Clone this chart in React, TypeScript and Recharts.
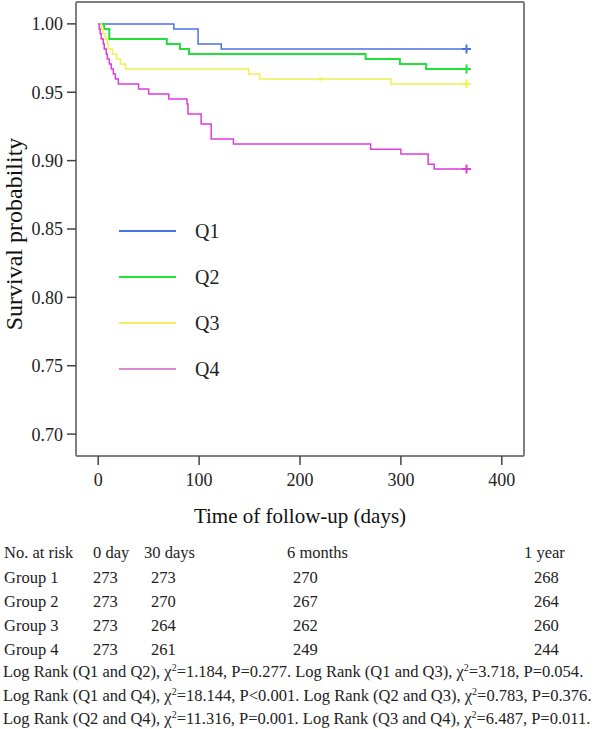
import React from 'react'
import { LineChart, Line, XAxis, YAxis, Legend, Label, ReferenceLine } from 'recharts'

// Kaplan-Meier steps (day, survival)
const q1Days = [0, 75, 99, 122, 365]
const q1Surv = [1, 0.9963, 0.9853, 0.9817, 0.9817]

const q2Days = [0, 6, 11, 68, 81, 90, 265, 299, 325, 365]
const q2Surv = [1, 0.9963, 0.989, 0.9853, 0.9817, 0.978, 0.9744, 0.9707, 0.967, 0.967]

const q3Days = [0, 3, 5, 7, 9, 10, 14, 18, 22, 27, 149, 160, 220, 290, 365]
const q3Surv = [1, 0.9963, 0.9927, 0.989, 0.9853, 0.9817, 0.978, 0.9744, 0.9707, 0.967, 0.9634, 0.9597, 0.9597, 0.956, 0.956]

const q4Days = [0, 1, 2, 3, 5, 6, 8, 9, 11, 13, 15, 17, 20, 40, 50, 70, 88, 89, 102, 112, 134, 270, 300, 327, 333, 365]
const q4Surv = [1, 0.9963, 0.9927, 0.989, 0.9853, 0.9817, 0.978, 0.9744, 0.9707, 0.967, 0.9634, 0.9597, 0.956, 0.9524, 0.9487, 0.9451, 0.9414, 0.9341, 0.9267, 0.9158, 0.9121, 0.9084, 0.9048, 0.8974, 0.8938, 0.8938]

const censorDays: Record<string, number[]> = { Q1: [365], Q2: [365], Q3: [220, 365], Q4: [365] }

const groups = ['Q1', 'Q2', 'Q3', 'Q4']
const lineColours = ['#4a72e8', '#22e03a', '#f0f050', '#dd3ddd']
const legendColours = ['#4a72e8', '#22e03a', '#f5ef60', '#d98ad0']

const xDomain = [-22, 422]
const yDomain = [0.684, 1.016]
const xTicks = [0, 100, 200, 300, 400]
const yTicks = [0.7, 0.75, 0.8, 0.85, 0.9, 0.95, 1.0]

// number at risk table
const riskHeaders = ['No. at risk', '0 day', '30 days', '6 months', '1 year']
const riskGroups = ['Group 1', 'Group 2', 'Group 3', 'Group 4']
const risk0 = [273, 273, 273, 273]
const risk30 = [273, 270, 264, 261]
const risk6m = [270, 267, 262, 249]
const risk1y = [268, 264, 260, 244]

const logRankPairs = ['Q1 and Q2', 'Q1 and Q3', 'Q1 and Q4', 'Q2 and Q3', 'Q2 and Q4', 'Q3 and Q4']
const logRankChi = ['1.184', '3.718', '18.144', '0.783', '11.316', '6.487']
const logRankP = ['P=0.277', 'P=0.054', 'P<0.001', 'P=0.376', 'P=0.001', 'P=0.011']

const font = '"Liberation Serif", "Times New Roman", serif'
const frame = '#808080'

const build = (days: number[], surv: number[], name: string) =>
  days.map((d, i) => ({ day: d, surv: surv[i], censor: censorDays[name].includes(d), last: i === days.length - 1 }))

const series = [
  build(q1Days, q1Surv, 'Q1'),
  build(q2Days, q2Surv, 'Q2'),
  build(q3Days, q3Surv, 'Q3'),
  build(q4Days, q4Surv, 'Q4'),
]

const CensorDot = (props: any) => {
  const { cx, cy, payload, stroke, index } = props
  if (!payload || !payload.censor) return <g key={`n${index}`} />
  const s = payload.last ? 4.5 : 2.5
  return (
    <path
      key={`c${index}`}
      d={`M${cx - s},${cy}H${cx + s}M${cx},${cy - s}V${cy + s}`}
      stroke={stroke}
      strokeWidth={payload.last ? 2 : 1.2}
      fill="none"
    />
  )
}

const LegendBox = () => (
  <div style={{ fontFamily: font }}>
    {groups.map((g, i) => (
      <div key={g} style={{ height: 46, display: 'flex', alignItems: 'center' }}>
        <svg width={80} height={4} style={{ marginLeft: 9 }}>
          <line x1={0} y1={2} x2={57} y2={2} stroke={legendColours[i]} strokeWidth={2} />
        </svg>
        <span style={{ marginLeft: -4, fontSize: 20, color: '#222' }}>{g}</span>
      </div>
    ))}
  </div>
)

// rotated y title, placed by hand
const YTitle = () => (
  <text
    x={14}
    y={234}
    transform="rotate(-90 14 234)"
    textAnchor="middle"
    dominantBaseline="central"
    style={{ fontSize: 24, fontFamily: font, fill: '#111' }}
  >
    Survival probability
  </text>
)

const rowY = [553, 577.5, 601.5, 625.5, 649.5]
const lrY = [672, 696, 719]
const colX = [4, 93, 144, 287, 524]
const valX = [93, 151, 293, 534]
const tableFont = 16.5

export default function App() {
  return (
    <div style={{ position: 'absolute', left: 0, top: 0, width: 598, height: 729, background: '#fff', fontFamily: font, color: '#222' }}>
      <LineChart width={598} height={535} margin={{ top: 2, right: 74, left: 0, bottom: 0 }}>
        <XAxis
          type="number"
          dataKey="day"
          domain={xDomain}
          ticks={xTicks}
          allowDataOverflow
          height={79}
          tickSize={9}
          tickMargin={8}
          axisLine={{ stroke: frame, strokeWidth: 2 }}
          tickLine={{ stroke: '#444', strokeWidth: 1.5 }}
          tick={{ fill: '#222', fontSize: 18, fontFamily: font }}
        >
          <Label value="Time of follow-up (days)" position="insideBottom" offset={12} style={{ fontSize: 21, fontFamily: font, fill: '#111' }} />
        </XAxis>
        <YAxis
          type="number"
          domain={yDomain}
          ticks={yTicks}
          allowDataOverflow
          width={76}
          tickSize={9}
          tickMargin={4}
          tickFormatter={(v: number) => v.toFixed(2)}
          axisLine={{ stroke: frame, strokeWidth: 2 }}
          tickLine={{ stroke: '#444', strokeWidth: 1.5 }}
          tick={{ fill: '#222', fontSize: 18, fontFamily: font }}
        >
          <Label content={() => <YTitle />} />
        </YAxis>
        {/* top and right edges of the frame */}
        <ReferenceLine y={yDomain[1]} stroke={frame} strokeWidth={2} />
        <ReferenceLine x={xDomain[1]} stroke={frame} strokeWidth={2} />
        {series.map((data, i) => (
          <Line
            key={groups[i]}
            data={data}
            dataKey="surv"
            name={groups[i]}
            type="stepAfter"
            stroke={lineColours[i]}
            strokeWidth={i === 1 ? 2 : 1.5}
            dot={CensorDot}
            activeDot={false}
            isAnimationActive={false}
          />
        ))}
        <Legend
          layout="vertical"
          align="center"
          verticalAlign="middle"
          wrapperStyle={{ left: 110, top: 208, width: 140, height: 184 }}
          content={() => <LegendBox />}
        />
      </LineChart>

      {/* number at risk */}
      {riskHeaders.map((h, i) => (
        <div key={h} style={{ position: 'absolute', left: colX[i], top: rowY[0] - 10, height: 20, lineHeight: '20px', fontSize: tableFont, whiteSpace: 'nowrap' }}>{h}</div>
      ))}
      {riskGroups.map((g, r) => (
        <React.Fragment key={g}>
          {[g, risk0[r], risk30[r], risk6m[r], risk1y[r]].map((v, c) => (
            <div key={c} style={{ position: 'absolute', left: c === 0 ? 4 : valX[c - 1], top: rowY[r + 1] - 10, height: 20, lineHeight: '20px', fontSize: tableFont, whiteSpace: 'nowrap' }}>{v}</div>
          ))}
        </React.Fragment>
      ))}
      {lrY.map((y, k) => (
        <div key={k} style={{ position: 'absolute', left: 3, top: y - 10, height: 20, lineHeight: '20px', fontSize: tableFont, whiteSpace: 'nowrap' }}>
          {[0, 1].map((j) => {
            const n = k * 2 + j
            return (
              <span key={j}>
                {j === 1 ? ' ' : ''}Log Rank ({logRankPairs[n]}), χ<sup style={{ fontSize: 10, lineHeight: 0 }}>2</sup>={logRankChi[n]}, {logRankP[n]}.
              </span>
            )
          })}
        </div>
      ))}
    </div>
  )
}
